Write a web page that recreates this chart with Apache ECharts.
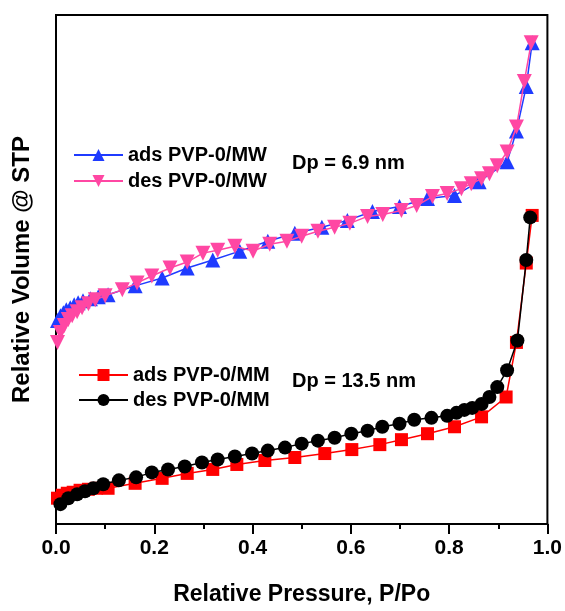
<!DOCTYPE html>
<html>
<head>
<meta charset="utf-8">
<script src="https://cdn.jsdelivr.net/npm/echarts@6/dist/echarts.min.js"></script>
<style>
html,body{margin:0;padding:0;background:#fff;}
#chart{width:565px;height:611px;}
</style>
</head>
<body>
<div id="chart"></div>
<script>
// Relative pressure P/Po and relative volume (arbitrary units)
const adsMW_P = [0.003,0.009,0.015,0.021,0.029,0.037,0.045,0.055,0.070,0.086,0.106,0.161,0.216,0.267,0.319,0.374,0.431,0.486,0.541,0.593,0.644,0.699,0.756,0.811,0.861,0.918,0.937,0.957,0.969];
const adsMW_V = [205,210,213,216,218,221,223,225,227,229,231,240,248,258,266,275,285,293,299,306,315,320,328,331,345,365,396,441,485];

const desMW_P = [0.003,0.009,0.017,0.025,0.033,0.043,0.053,0.066,0.080,0.100,0.135,0.165,0.195,0.232,0.267,0.299,0.329,0.364,0.401,0.435,0.470,0.500,0.533,0.567,0.598,0.634,0.665,0.703,0.734,0.766,0.796,0.825,0.845,0.866,0.882,0.898,0.918,0.937,0.953,0.967];
const desMW_V = [183,193,200,206,210,214,218,222,226,230,236,243,250,258,264,273,276,280,275,282,285,290,295,299,303,310,312,316,321,330,333,338,343,348,353,361,375,400,446,485];

const adsMM_P = [0.003,0.013,0.023,0.035,0.049,0.066,0.082,0.106,0.161,0.216,0.267,0.319,0.368,0.425,0.486,0.547,0.602,0.659,0.703,0.756,0.811,0.866,0.916,0.937,0.957,0.969];
const adsMM_V = [26,29,31,32,34,35,36,36,41,46,51,55,60,64,67,71,75,80,85,91,98,108,128,183,263,311];

const desMM_P = [0.009,0.025,0.043,0.059,0.076,0.096,0.128,0.163,0.195,0.228,0.262,0.297,0.329,0.364,0.399,0.431,0.466,0.500,0.533,0.567,0.601,0.634,0.664,0.699,0.729,0.764,0.796,0.815,0.831,0.847,0.866,0.882,0.898,0.918,0.939,0.957,0.965];
const desMM_V = [20,26,30,33,36,40,44,47,52,55,58,62,65,68,71,74,77,81,84,87,91,94,98,101,105,107,109,112,115,117,121,128,138,155,185,266,309];

const xTicks = [0, 0.2, 0.4, 0.6, 0.8, 1.0];
const seriesNames = ['ads PVP-0/MW','des PVP-0/MW','ads PVP-0/MM','des PVP-0/MM'];
const dpLabels = ['Dp = 6.9 nm','Dp = 13.5 nm'];

const zip = (a,b) => a.map((x,i)=>[x,b[i]]);
const FONT = '"Liberation Sans", Arial, sans-serif';

const chart = echarts.init(document.getElementById('chart'));
const mk = (name, P, V, color, symbol, size, z) => ({
  name, type:'line', data: zip(P,V), symbol, symbolSize:size,
  lineStyle:{color, width:1.5}, itemStyle:{color}, z, animation:false
});
chart.setOption({
  backgroundColor:'#fff',
  animation:false,
  grid:{left:56, right:17, top:15, bottom:83, show:true, borderColor:'#000', borderWidth:2},
  xAxis:{
    type:'value', min:0, max:1, interval:0.2,
    name:'Relative Pressure, P/Po', nameLocation:'middle', nameGap:59,
    nameTextStyle:{fontFamily:FONT, fontWeight:'bold', fontSize:23, color:'#000'},
    axisLine:{lineStyle:{color:'#000', width:2}},
    axisTick:{show:true, inside:false, length:10, lineStyle:{color:'#000', width:2}},
    minorTick:{show:true, splitNumber:2, length:5, lineStyle:{color:'#000', width:2}},
    splitLine:{show:false},
    axisLabel:{margin:14, fontFamily:FONT, fontWeight:'bold', fontSize:21, color:'#000',
      formatter:(v)=> xTicks.some(t=>Math.abs(t-v)<1e-9) ? v.toFixed(1) : ''}
  },
  yAxis:{
    type:'value', min:0, max:513,
    name:'Relative Volume @ STP', nameLocation:'middle', nameGap:22,
    nameTextStyle:{fontFamily:FONT, fontWeight:'bold', fontSize:24, color:'#000'},
    axisLine:{show:true, lineStyle:{color:'#000', width:2}},
    axisTick:{show:false}, axisLabel:{show:false}, splitLine:{show:false}
  },
  legend:[
    {data:[seriesNames[0],seriesNames[1]], orient:'vertical', left:68, top:140,
     itemWidth:49, itemHeight:15, itemGap:6,
     textStyle:{fontFamily:FONT, fontWeight:'bold', fontSize:20, color:'#000'}},
    {data:[seriesNames[2],seriesNames[3]], orient:'vertical', left:73, top:360,
     itemWidth:49, itemHeight:15, itemGap:5,
     textStyle:{fontFamily:FONT, fontWeight:'bold', fontSize:20, color:'#000'}}
  ],
  graphic:[
    {type:'text', left:292, top:153, style:{text:dpLabels[0], font:'bold 20px '+FONT, fill:'#000'}},
    {type:'text', left:292, top:371, style:{text:dpLabels[1], font:'bold 20px '+FONT, fill:'#000'}}
  ],
  series:[
    mk(seriesNames[0], adsMW_P, adsMW_V, '#1f3bff', 'triangle', 15, 2),
    mk(seriesNames[1], desMW_P, desMW_V, '#ff47a3', 'path://M0,0 L10,0 L5,9 Z', 15, 3),
    mk(seriesNames[2], adsMM_P, adsMM_V, '#ff0000', 'rect', 13, 2),
    mk(seriesNames[3], desMM_P, desMM_V, '#000000', 'circle', 14, 3)
  ]
});
</script>
</body>
</html>
